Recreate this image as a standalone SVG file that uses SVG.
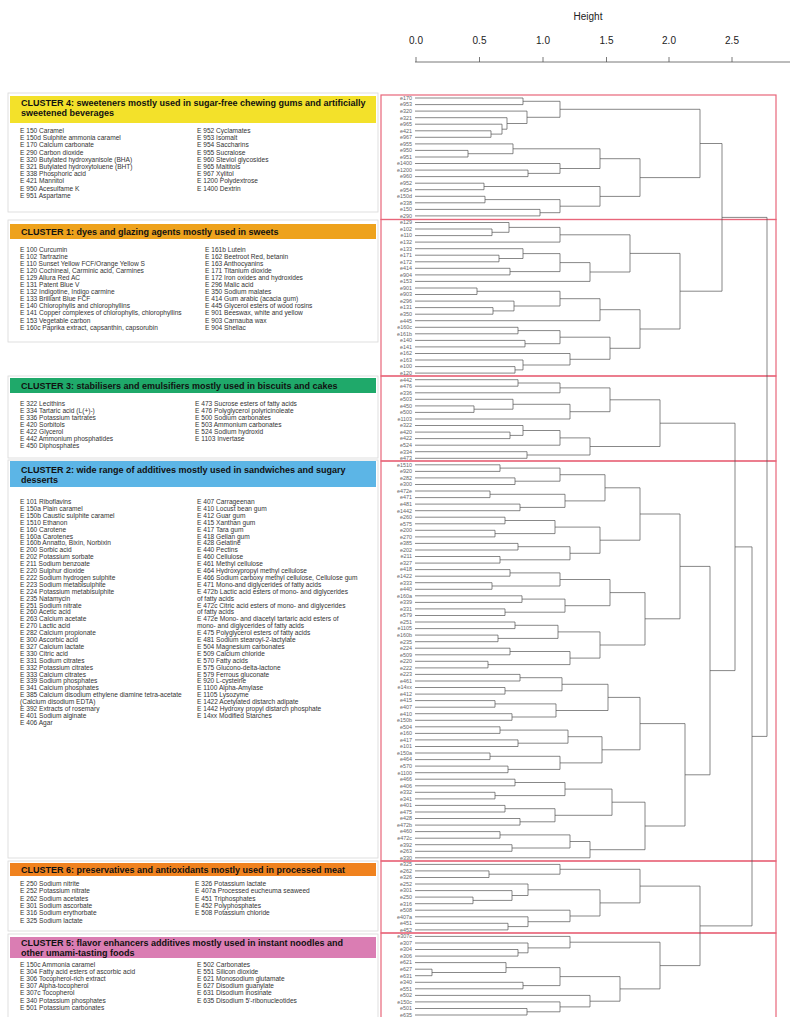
<svg xmlns="http://www.w3.org/2000/svg" width="790" height="1017" viewBox="0 0 790 1017">
<style>
.t{font-family:"Liberation Sans",Arial,sans-serif;font-weight:bold;font-size:9px;fill:#111}
.i{font-family:"Liberation Sans",Arial,sans-serif;font-size:6.6px;fill:#333}
.lf{font-family:"Liberation Sans",Arial,sans-serif;font-size:5.4px;fill:#666;text-anchor:end}
.ax{font-family:"Liberation Sans",Arial,sans-serif;font-size:10px;fill:#222;text-anchor:middle}
.panel{fill:#fff;stroke:#d8d8d8;stroke-width:0.8}
.red{fill:none;stroke:#e8667a;stroke-width:1.2}
.dl{fill:none;stroke:#555;stroke-width:0.7}
</style>
<rect width="790" height="1017" fill="#fff"/>
<g id="axis">
<text class="ax" x="588" y="20">Height</text>
<text class="ax" x="416" y="44">0.0</text>
<text class="ax" x="479.5" y="44">0.5</text>
<text class="ax" x="543" y="44">1.0</text>
<text class="ax" x="606.5" y="44">1.5</text>
<text class="ax" x="669" y="44">2.0</text>
<text class="ax" x="732" y="44">2.5</text>
<path d="M415 62H790M416 57V62M479.5 57V62M543 57V62M606.5 57V62M669 57V62M732 57V62" stroke="#555" stroke-width="0.8" fill="none"/>
</g>
<g id="cluster4">
<rect class="panel" x="8" y="93" width="370" height="119"/>
<rect x="10" y="96" width="366" height="27" fill="#f3e12a"/>
<text class="t" x="21" y="106">CLUSTER 4: sweeteners mostly used in sugar-free chewing gums and artificially<tspan x="21" dy="10">sweetened beverages</tspan></text>
<text class="i" y="133"><tspan x="20">E 150 Caramel</tspan><tspan x="20" dy="7.2">E 150d Sulphite ammonia caramel</tspan><tspan x="20" dy="7.2">E 170 Calcium carbonate</tspan><tspan x="20" dy="7.2">E 290 Carbon dioxide</tspan><tspan x="20" dy="7.2">E 320 Butylated hydroxyanisole (BHA)</tspan><tspan x="20" dy="7.2">E 321 Butylated hydroxytoluene (BHT)</tspan><tspan x="20" dy="7.2">E 338 Phosphoric acid</tspan><tspan x="20" dy="7.2">E 421 Mannitol</tspan><tspan x="20" dy="7.2">E 950 Acesulfame K</tspan><tspan x="20" dy="7.2">E 951 Aspartame</tspan></text>
<text class="i" y="133"><tspan x="197">E 952 Cyclamates</tspan><tspan x="197" dy="7.2">E 953 Isomalt</tspan><tspan x="197" dy="7.2">E 954 Saccharins</tspan><tspan x="197" dy="7.2">E 955 Sucralose</tspan><tspan x="197" dy="7.2">E 960 Steviol glycosides</tspan><tspan x="197" dy="7.2">E 965 Maltitols</tspan><tspan x="197" dy="7.2">E 967 Xylitol</tspan><tspan x="197" dy="7.2">E 1200 Polydextrose</tspan><tspan x="197" dy="7.2">E 1400 Dextrin</tspan></text>
</g>
<g id="cluster1">
<rect class="panel" x="8" y="220" width="370" height="122"/>
<rect x="10" y="224" width="366" height="15" fill="#eea21c"/>
<text class="t" x="21" y="234.5">CLUSTER 1: dyes and glazing agents mostly used in sweets</text>
<text class="i" y="251.5"><tspan x="20">E 100 Curcumin</tspan><tspan x="20" dy="7.1">E 102 Tartrazine</tspan><tspan x="20" dy="7.1">E 110 Sunset Yellow FCF/Orange Yellow S</tspan><tspan x="20" dy="7.1">E 120 Cochineal, Carminic acid, Carmines</tspan><tspan x="20" dy="7.1">E 129 Allura Red AC</tspan><tspan x="20" dy="7.1">E 131 Patent Blue V</tspan><tspan x="20" dy="7.1">E 132 Indigotine, Indigo carmine</tspan><tspan x="20" dy="7.1">E 133 Brilliant Blue FCF</tspan><tspan x="20" dy="7.1">E 140 Chlorophylls and chlorophyllins</tspan><tspan x="20" dy="7.1">E 141 Copper complexes of chlorophylls, chlorophyllins</tspan><tspan x="20" dy="7.1">E 153 Vegetable carbon</tspan><tspan x="20" dy="7.1">E 160c Paprika extract, capsanthin, capsorubin</tspan></text>
<text class="i" y="251.5"><tspan x="205">E 161b Lutein</tspan><tspan x="205" dy="7.1">E 162 Beetroot Red, betanin</tspan><tspan x="205" dy="7.1">E 163 Anthocyanins</tspan><tspan x="205" dy="7.1">E 171 Titanium dioxide</tspan><tspan x="205" dy="7.1">E 172 Iron oxides and hydroxides</tspan><tspan x="205" dy="7.1">E 296 Malic acid</tspan><tspan x="205" dy="7.1">E 350 Sodium malates</tspan><tspan x="205" dy="7.1">E 414 Gum arabic (acacia gum)</tspan><tspan x="205" dy="7.1">E 445 Glycerol esters of wood rosins</tspan><tspan x="205" dy="7.1">E 901 Beeswax, white and yellow</tspan><tspan x="205" dy="7.1">E 903 Carnauba wax</tspan><tspan x="205" dy="7.1">E 904 Shellac</tspan></text>
</g>
<g id="cluster3">
<rect class="panel" x="8" y="376" width="370" height="82"/>
<rect x="10" y="378" width="366" height="15" fill="#1fa96a"/>
<text class="t" x="21" y="388.5">CLUSTER 3: stabilisers and emulsifiers mostly used in biscuits and cakes</text>
<text class="i" y="406"><tspan x="20">E 322 Lecithins</tspan><tspan x="20" dy="7">E 334 Tartaric acid (L(+)-)</tspan><tspan x="20" dy="7">E 336 Potassium tartrates</tspan><tspan x="20" dy="7">E 420 Sorbitols</tspan><tspan x="20" dy="7">E 422 Glycerol</tspan><tspan x="20" dy="7">E 442 Ammonium phosphatides</tspan><tspan x="20" dy="7">E 450 Diphosphates</tspan></text>
<text class="i" y="406"><tspan x="195">E 473 Sucrose esters of fatty acids</tspan><tspan x="195" dy="7">E 476 Polyglycerol polyricinoleate</tspan><tspan x="195" dy="7">E 500 Sodium carbonates</tspan><tspan x="195" dy="7">E 503 Ammonium carbonates</tspan><tspan x="195" dy="7">E 524 Sodium hydroxid</tspan><tspan x="195" dy="7">E 1103 Invertase</tspan></text>
</g>
<g id="cluster2">
<rect class="panel" x="8" y="460" width="370" height="398"/>
<rect x="10" y="461" width="366" height="26" fill="#5cb5e6"/>
<text class="t" x="21" y="473">CLUSTER 2: wide range of additives mostly used in sandwiches and sugary<tspan x="21" dy="10">desserts</tspan></text>
<text class="i" y="504"><tspan x="20">E 101 Riboflavins</tspan><tspan x="20" dy="6.9">E 150a Plain caramel</tspan><tspan x="20" dy="6.9">E 150b Caustic sulphite caramel</tspan><tspan x="20" dy="6.9">E 1510 Ethanon</tspan><tspan x="20" dy="6.9">E 160 Carotene</tspan><tspan x="20" dy="6.9">E 160a Carotenes</tspan><tspan x="20" dy="6.9">E 160b Annatto, Bixin, Norbixin</tspan><tspan x="20" dy="6.9">E 200 Sorbic acid</tspan><tspan x="20" dy="6.9">E 202 Potassium sorbate</tspan><tspan x="20" dy="6.9">E 211 Sodium benzoate</tspan><tspan x="20" dy="6.9">E 220 Sulphur dioxide</tspan><tspan x="20" dy="6.9">E 222 Sodium hydrogen sulphite</tspan><tspan x="20" dy="6.9">E 223 Sodium metabisulphite</tspan><tspan x="20" dy="6.9">E 224 Potassium metabisulphite</tspan><tspan x="20" dy="6.9">E 235 Natamycin</tspan><tspan x="20" dy="6.9">E 251 Sodium nitrate</tspan><tspan x="20" dy="6.9">E 260 Acetic acid</tspan><tspan x="20" dy="6.9">E 263 Calcium acetate</tspan><tspan x="20" dy="6.9">E 270 Lactic acid</tspan><tspan x="20" dy="6.9">E 282 Calcium propionate</tspan><tspan x="20" dy="6.9">E 300 Ascorbic acid</tspan><tspan x="20" dy="6.9">E 327 Calcium lactate</tspan><tspan x="20" dy="6.9">E 330 Citric acid</tspan><tspan x="20" dy="6.9">E 331 Sodium citrates</tspan><tspan x="20" dy="6.9">E 332 Potassium citrates</tspan><tspan x="20" dy="6.9">E 333 Calcium citrates</tspan><tspan x="20" dy="6.9">E 339 Sodium phosphates</tspan><tspan x="20" dy="6.9">E 341 Calcium phosphates</tspan><tspan x="20" dy="6.9">E 385 Calcium disodium ethylene diamine tetra-acetate</tspan><tspan x="20" dy="6.9">(Calcium disodium EDTA)</tspan><tspan x="20" dy="6.9">E 392 Extracts of rosemary</tspan><tspan x="20" dy="6.9">E 401 Sodium alginate</tspan><tspan x="20" dy="6.9">E 406 Agar</tspan></text>
<text class="i" y="504"><tspan x="197">E 407 Carrageenan</tspan><tspan x="197" dy="6.9">E 410 Locust bean gum</tspan><tspan x="197" dy="6.9">E 412 Guar gum</tspan><tspan x="197" dy="6.9">E 415 Xanthan gum</tspan><tspan x="197" dy="6.9">E 417 Tara gum</tspan><tspan x="197" dy="6.9">E 418 Gellan gum</tspan><tspan x="197" dy="6.9">E 428 Gelatine</tspan><tspan x="197" dy="6.9">E 440 Pectins</tspan><tspan x="197" dy="6.9">E 460 Cellulose</tspan><tspan x="197" dy="6.9">E 461 Methyl cellulose</tspan><tspan x="197" dy="6.9">E 464 Hydroxypropyl methyl cellulose</tspan><tspan x="197" dy="6.9">E 466 Sodium carboxy methyl cellulose, Cellulose gum</tspan><tspan x="197" dy="6.9">E 471 Mono-and diglycerides of fatty acids</tspan><tspan x="197" dy="6.9">E 472b Lactic acid esters of mono- and diglycerides</tspan><tspan x="197" dy="6.9">of fatty acids</tspan><tspan x="197" dy="6.9">E 472c Citric acid esters of mono- and diglycerides</tspan><tspan x="197" dy="6.9">of fatty acids</tspan><tspan x="197" dy="6.9">E 472e Mono- and diacetyl tartaric acid esters of</tspan><tspan x="197" dy="6.9">mono- and diglycerides of fatty acids</tspan><tspan x="197" dy="6.9">E 475 Polyglycerol esters of fatty acids</tspan><tspan x="197" dy="6.9">E 481 Sodium stearoyl-2-lactylate</tspan><tspan x="197" dy="6.9">E 504 Magnesium carbonates</tspan><tspan x="197" dy="6.9">E 509 Calcium chloride</tspan><tspan x="197" dy="6.9">E 570 Fatty acids</tspan><tspan x="197" dy="6.9">E 575 Glucono-delta-lactone</tspan><tspan x="197" dy="6.9">E 579 Ferrous gluconate</tspan><tspan x="197" dy="6.9">E 920 L-cysteine</tspan><tspan x="197" dy="6.9">E 1100 Alpha-Amylase</tspan><tspan x="197" dy="6.9">E 1105 Lysozyme</tspan><tspan x="197" dy="6.9">E 1422 Acetylated distarch adipate</tspan><tspan x="197" dy="6.9">E 1442 Hydroxy propyl distarch phosphate</tspan><tspan x="197" dy="6.9">E 14xx Modified Starches</tspan></text>
</g>
<g id="cluster6">
<rect class="panel" x="8" y="861" width="370" height="70"/>
<rect x="10" y="863" width="366" height="13" fill="#f0821e"/>
<text class="t" x="21" y="872.5">CLUSTER 6: preservatives and antioxidants mostly used in processed meat</text>
<text class="i" y="886"><tspan x="20">E 250 Sodium nitrite</tspan><tspan x="20" dy="7.3">E 252 Potassium nitrate</tspan><tspan x="20" dy="7.3">E 262 Sodium acetates</tspan><tspan x="20" dy="7.3">E 301 Sodium ascorbate</tspan><tspan x="20" dy="7.3">E 316 Sodium erythorbate</tspan><tspan x="20" dy="7.3">E 325 Sodium lactate</tspan></text>
<text class="i" y="886"><tspan x="195">E 326 Potassium lactate</tspan><tspan x="195" dy="7.3">E 407a Processed eucheuma seaweed</tspan><tspan x="195" dy="7.3">E 451 Triphosphates</tspan><tspan x="195" dy="7.3">E 452 Polyphosphates</tspan><tspan x="195" dy="7.3">E 508 Potassium chloride</tspan></text>
</g>
<g id="cluster5">
<rect class="panel" x="8" y="934" width="370" height="90"/>
<rect x="10" y="937" width="366" height="21" fill="#da7db3"/>
<text class="t" x="21" y="946">CLUSTER 5: flavor enhancers additives mostly used in instant noodles and<tspan x="21" dy="9.5">other umami-tasting foods</tspan></text>
<text class="i" y="967"><tspan x="20">E 150c Ammonia caramel</tspan><tspan x="20" dy="7.1">E 304 Fatty acid esters of ascorbic acid</tspan><tspan x="20" dy="7.1">E 306 Tocopherol-rich extract</tspan><tspan x="20" dy="7.1">E 307 Alpha-tocopherol</tspan><tspan x="20" dy="7.1">E 307c Tocopherol</tspan><tspan x="20" dy="7.1">E 340 Potassium phosphates</tspan><tspan x="20" dy="7.1">E 501 Potassium carbonates</tspan></text>
<text class="i" y="967"><tspan x="197">E 502 Carbonates</tspan><tspan x="197" dy="7.1">E 551 Silicon dioxide</tspan><tspan x="197" dy="7.1">E 621 Monosodium glutamate</tspan><tspan x="197" dy="7.1">E 627 Disodium guanylate</tspan><tspan x="197" dy="7.1">E 631 Disodium inosinate</tspan><tspan x="197" dy="7.1">E 635 Disodium 5'-ribonucleotides</tspan></text>
</g>
<g id="cluster-frames">
<rect class="red" x="381" y="95" width="395" height="124.5"/>
<rect class="red" x="381" y="219.5" width="395" height="156.5"/>
<rect class="red" x="381" y="376" width="395" height="85"/>
<rect class="red" x="381" y="461" width="395" height="400"/>
<rect class="red" x="381" y="861" width="395" height="72"/>
<rect class="red" x="381" y="933" width="395" height="90"/>
</g>
<g id="leaf-labels">
<text class="lf"><tspan x="412" y="99.8">e170</tspan><tspan x="412" y="106.4">e953</tspan><tspan x="412" y="112.9">e320</tspan><tspan x="412" y="119.5">e321</tspan><tspan x="412" y="126">e965</tspan><tspan x="412" y="132.6">e421</tspan><tspan x="412" y="139.1">e967</tspan><tspan x="412" y="145.7">e955</tspan><tspan x="412" y="152.2">e950</tspan><tspan x="412" y="158.8">e951</tspan><tspan x="412" y="165.3">e1400</tspan><tspan x="412" y="171.9">e1200</tspan><tspan x="412" y="178.4">e960</tspan><tspan x="412" y="185">e952</tspan><tspan x="412" y="191.5">e954</tspan><tspan x="412" y="198.1">e150d</tspan><tspan x="412" y="204.6">e338</tspan><tspan x="412" y="211.2">e150</tspan><tspan x="412" y="217.7">e290</tspan></text>
<text class="lf"><tspan x="412" y="224.3">e129</tspan><tspan x="412" y="230.8">e102</tspan><tspan x="412" y="237.4">e110</tspan><tspan x="412" y="243.9">e132</tspan><tspan x="412" y="250.5">e133</tspan><tspan x="412" y="257">e171</tspan><tspan x="412" y="263.6">e172</tspan><tspan x="412" y="270.1">e414</tspan><tspan x="412" y="276.7">e904</tspan><tspan x="412" y="283.2">e153</tspan><tspan x="412" y="289.8">e901</tspan><tspan x="412" y="296.3">e903</tspan><tspan x="412" y="302.9">e296</tspan><tspan x="412" y="309.4">e131</tspan><tspan x="412" y="316">e350</tspan><tspan x="412" y="322.5">e445</tspan><tspan x="412" y="329.1">e160c</tspan><tspan x="412" y="335.6">e161b</tspan><tspan x="412" y="342.2">e140</tspan><tspan x="412" y="348.7">e141</tspan><tspan x="412" y="355.3">e162</tspan><tspan x="412" y="361.8">e163</tspan><tspan x="412" y="368.4">e100</tspan><tspan x="412" y="374.9">e120</tspan></text>
<text class="lf"><tspan x="412" y="381.5">e442</tspan><tspan x="412" y="388">e476</tspan><tspan x="412" y="394.6">e336</tspan><tspan x="412" y="401.1">e503</tspan><tspan x="412" y="407.7">e450</tspan><tspan x="412" y="414.2">e500</tspan><tspan x="412" y="420.8">e1103</tspan><tspan x="412" y="427.3">e322</tspan><tspan x="412" y="433.9">e420</tspan><tspan x="412" y="440.4">e422</tspan><tspan x="412" y="447">e524</tspan><tspan x="412" y="453.5">e334</tspan><tspan x="412" y="460.1">e473</tspan></text>
<text class="lf"><tspan x="412" y="466.6">e1510</tspan><tspan x="412" y="473.2">e920</tspan><tspan x="412" y="479.7">e282</tspan><tspan x="412" y="486.3">e300</tspan><tspan x="412" y="492.8">e472e</tspan><tspan x="412" y="499.4">e471</tspan><tspan x="412" y="505.9">e481</tspan><tspan x="412" y="512.5">e1442</tspan><tspan x="412" y="519">e260</tspan><tspan x="412" y="525.6">e575</tspan><tspan x="412" y="532.1">e200</tspan><tspan x="412" y="538.7">e270</tspan><tspan x="412" y="545.2">e385</tspan><tspan x="412" y="551.8">e202</tspan><tspan x="412" y="558.3">e211</tspan><tspan x="412" y="564.9">e327</tspan><tspan x="412" y="571.4">e418</tspan><tspan x="412" y="578">e1422</tspan><tspan x="412" y="584.5">e333</tspan><tspan x="412" y="591.1">e440</tspan><tspan x="412" y="597.6">e160a</tspan><tspan x="412" y="604.2">e339</tspan><tspan x="412" y="610.7">e331</tspan><tspan x="412" y="617.3">e579</tspan><tspan x="412" y="623.8">e251</tspan><tspan x="412" y="630.4">e1105</tspan><tspan x="412" y="636.9">e160b</tspan><tspan x="412" y="643.5">e235</tspan><tspan x="412" y="650">e224</tspan><tspan x="412" y="656.6">e509</tspan><tspan x="412" y="663.1">e220</tspan><tspan x="412" y="669.7">e222</tspan><tspan x="412" y="676.2">e223</tspan><tspan x="412" y="682.8">e461</tspan><tspan x="412" y="689.3">e14xx</tspan><tspan x="412" y="695.9">e412</tspan><tspan x="412" y="702.4">e415</tspan><tspan x="412" y="709">e407</tspan><tspan x="412" y="715.5">e410</tspan><tspan x="412" y="722.1">e150b</tspan><tspan x="412" y="728.6">e504</tspan><tspan x="412" y="735.2">e160</tspan><tspan x="412" y="741.7">e417</tspan><tspan x="412" y="748.3">e101</tspan><tspan x="412" y="754.8">e150a</tspan><tspan x="412" y="761.4">e464</tspan><tspan x="412" y="767.9">e570</tspan><tspan x="412" y="774.5">e1100</tspan><tspan x="412" y="781">e466</tspan><tspan x="412" y="787.6">e406</tspan><tspan x="412" y="794.1">e332</tspan><tspan x="412" y="800.7">e341</tspan><tspan x="412" y="807.2">e401</tspan><tspan x="412" y="813.8">e475</tspan><tspan x="412" y="820.3">e428</tspan><tspan x="412" y="826.9">e472b</tspan><tspan x="412" y="833.4">e460</tspan><tspan x="412" y="840">e472c</tspan><tspan x="412" y="846.5">e392</tspan><tspan x="412" y="853.1">e263</tspan><tspan x="412" y="859.6">e330</tspan></text>
<text class="lf"><tspan x="412" y="866.2">e325</tspan><tspan x="412" y="872.7">e262</tspan><tspan x="412" y="879.3">e326</tspan><tspan x="412" y="885.8">e252</tspan><tspan x="412" y="892.4">e301</tspan><tspan x="412" y="898.9">e250</tspan><tspan x="412" y="905.5">e316</tspan><tspan x="412" y="912">e508</tspan><tspan x="412" y="918.6">e407a</tspan><tspan x="412" y="925.1">e451</tspan><tspan x="412" y="931.7">e452</tspan></text>
<text class="lf"><tspan x="412" y="938.2">e307c</tspan><tspan x="412" y="944.8">e307</tspan><tspan x="412" y="951.3">e304</tspan><tspan x="412" y="957.9">e306</tspan><tspan x="412" y="964.4">e621</tspan><tspan x="412" y="971">e627</tspan><tspan x="412" y="977.5">e631</tspan><tspan x="412" y="984.1">e340</tspan><tspan x="412" y="990.6">e551</tspan><tspan x="412" y="997.2">e502</tspan><tspan x="412" y="1003.7">e150c</tspan><tspan x="412" y="1010.3">e501</tspan><tspan x="412" y="1016.8">e635</tspan></text>
</g>
<g id="connectors" class="dl">
<path d="M415 98H523V104.6H415M415 130.8H491V137.3H415M415 124.2H502V134.1H491M415 117.7H507V129.2H502M415 111.1H527V123.5H507M523 101.3H560V117.3H527M415 150.4H468V157H415M415 143.9H513V153.7H468M415 170.1H528V176.6H415M415 163.5H560V173.4H528M513 148.8H600V168.5H560M415 183.2H484V189.7H415M415 196.3H485V202.8H415M415 209.4H540V215.9H415M485 199.6H560V212.7H540M484 186.5H600V206.2H560M600 158.7H640V196.4H600M560 109.3H700V177.6H640"/>
<path d="M415 229H492V235.6H415M415 222.5H509V232.3H492M509 227.4H560V242.1H415M415 255.2H499V261.8H415M415 248.7H523V258.5H499M415 268.3H510V274.9H415M523 253.6H560V271.6H510M560 262.6H590V281.4H415M415 288H477V294.5H415M415 307.6H493V314.2H415M415 301.1H514V310.9H493M477 291.3H560V306H514M560 298.7H600V320.7H415M415 327.3H518V333.8H415M415 340.4H525V346.9H415M518 330.6H560V343.7H525M415 366.6H515V373.1H415M415 360H523V369.9H515M415 353.5H570V365H523M560 337.2H610V359.3H570M560 234.8H630V272H590M600 309.7H640V348.3H610M630 253.4H680V329H640"/>
<path d="M700 143.5H722V291.2H680"/>
<path d="M415 379.7H518V386.2H415M518 383H560V392.8H415M415 405.9H474V412.4H415M415 399.3H513V409.2H474M513 404.3H570V419H415M415 432.1H510V438.6H415M415 425.5H523V435.4H510M523 430.5H560V445.2H415M415 451.7H527V458.3H415M560 437.9H590V455H527M560 387.9H610V411.7H570M610 399.8H660V446.5H590"/>
<path d="M415 464.8H500V471.4H415M415 477.9H515V484.5H415M415 491H490V497.6H415M415 504.1H520V510.7H415M415 517.2H505V523.8H415M415 530.3H495V536.9H415M415 543.4H518V550H415M415 556.5H500V563.1H415M415 569.6H510V576.2H415M415 582.7H492V589.3H415M415 595.8H522V602.4H415M415 608.9H505V615.5H415M415 622H515V628.6H415M415 635.1H498V641.7H415M415 648.2H510V654.8H415M415 661.3H488V667.9H415M415 674.4H520V681H415M415 687.5H505V694.1H415M415 700.6H495V707.2H415M415 713.7H512V720.3H415M415 726.8H500V733.4H415M415 739.9H518V746.5H415M415 753H490V759.6H415M415 766.1H508V772.7H415M415 779.2H515V785.8H415M415 792.3H495V798.9H415M415 805.4H505V812H415M415 818.5H520V825.1H415M415 831.6H500V838.2H415M415 844.7H512V851.3H415"/>
<path d="M500 468.1H560V481.2H515M490 494.3H565V507.4H520M505 520.5H555V533.6H495M518 546.7H570V559.8H500M510 572.9H560V586H492M522 599.1H565V612.2H505M515 625.3H558V638.4H498M510 651.5H570V664.6H488M520 677.7H562V690.8H505M495 703.9H556V717H512M500 730.1H568V743.2H518M490 756.3H560V769.4H508M515 782.5H565V795.6H495M505 808.7H555V821.8H520M500 834.9H570V848H512M570 841.5H590V857.8H415"/>
<path d="M560 474.7H605V500.9H565M555 527.1H600V553.3H570M560 579.5H610V605.7H565M558 631.9H600V658.1H570M562 684.3H608V710.5H556M568 736.7H602V762.9H560M565 789.1H612V815.3H555M605 487.8H640V540.2H600M610 592.6H645V645H600M608 697.4H640V749.8H602M612 802.2H645V849.7H590M640 514H680V618.8H645M640 723.6H685V826H645M680 566.4H710V774.8H685"/>
<path d="M660 423.2H735V670.6H710"/>
<path d="M415 870.9H489V877.5H415M415 864.4H560V874.2H489M415 897.1H473V903.7H415M415 890.6H512V900.4H473M415 884H528V895.5H512M415 923.3H508V929.9H415M415 916.8H528V926.6H508M415 910.2H570V921.7H528M528 889.8H600V916H570M560 869.3H640V902.9H600"/>
<path d="M415 949.5H518V956.1H415M415 943H528V952.8H518M415 936.4H570V947.9H528M415 969.2H432V975.7H415M415 962.6H506V972.5H432M415 982.3H523V988.8H415M506 967.6H560V985.6H523M415 1008.5H527V1015H415M415 1001.9H560V1011.8H527M415 995.4H590V1006.9H560M560 976.6H620V1001.2H590M570 942.2H660V988.9H620"/>
<path d="M640 886.1H700V965.6H660M735 546.9H752V925.9H700M722 217.4H767V736.4H752"/>
</g>
</svg>
